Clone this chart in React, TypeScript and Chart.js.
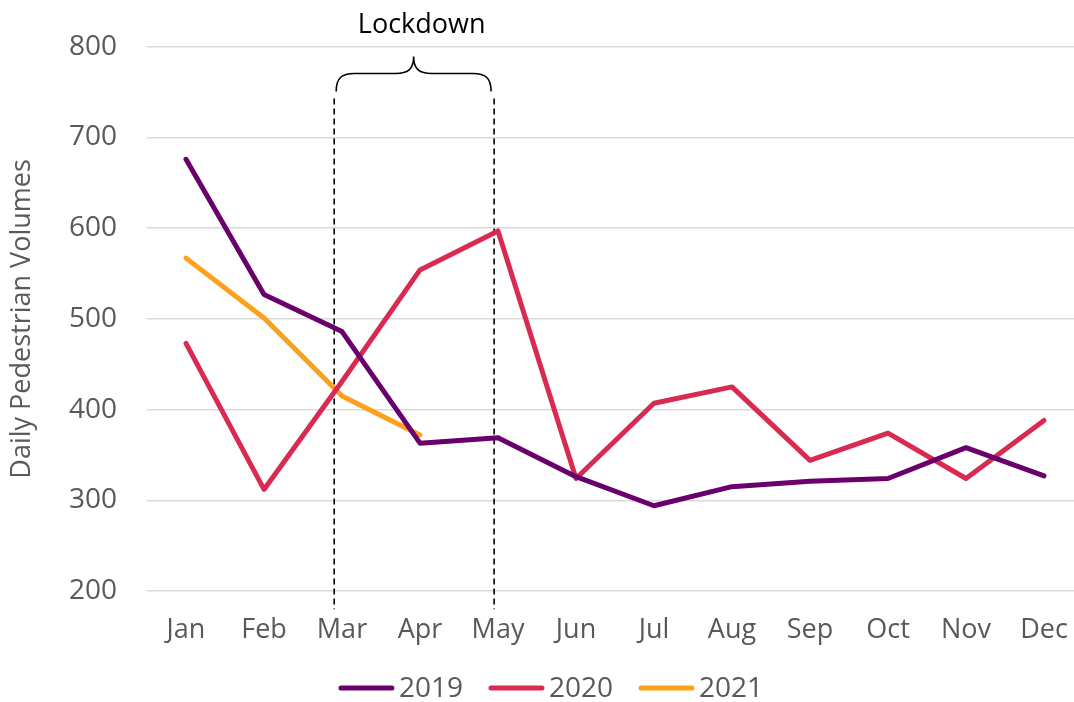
import { useEffect, useRef } from "react";
import { Chart, registerables } from "chart.js";

Chart.register(...registerables);

// ---- data ----
const months = ["Jan", "Feb", "Mar", "Apr", "May", "Jun", "Jul", "Aug", "Sep", "Oct", "Nov", "Dec"];
const seriesNames = ["2019", "2020", "2021"];
const values2019 = [676, 527, 486, 363, 369, 326, 294, 315, 321, 324, 358, 327];
const values2020 = [473, 312, 431, 554, 597, 324, 407, 425, 344, 374, 324, 388];
const values2021 = [567, 501, 415, 372, null, null, null, null, null, null, null, null];
const yTicks = [200, 300, 400, 500, 600, 700, 800];
const yTitle = "Daily Pedestrian Volumes";
const lockdownLabel = "Lockdown";
// lockdown marker, in category-index units and axis values
const lockdownStart = 1.9;
const lockdownEnd = 3.95;
const lockdownTop = 743;
const lockdownBottom = 180;

// ---- styles ----
const FONT = "'Open Sans', sans-serif";
const TEXT_GREY = "#595959";
const COLORS = ["#6a006c", "#d92b52", "#ffa01a"];

const lockdownPlugin = {
  id: "lockdown",
  beforeDatasetsDraw(chart: any) {
    const { ctx, scales } = chart;
    const xs = scales.x;
    const ys = scales.y;
    const x1 = xs.getPixelForValue(lockdownStart);
    const x2 = xs.getPixelForValue(lockdownEnd);
    const yT = ys.getPixelForValue(lockdownTop);
    const yB = ys.getPixelForValue(lockdownBottom);
    ctx.save();
    ctx.strokeStyle = "#000";
    ctx.lineWidth = 1.6;
    ctx.setLineDash([6, 4]);
    [x1, x2].forEach((x) => {
      ctx.beginPath();
      ctx.moveTo(x, yT);
      ctx.lineTo(x, yB);
      ctx.stroke();
    });
    ctx.restore();
  },
  afterDraw(chart: any) {
    const { ctx, scales } = chart;
    const xs = scales.x;
    const ys = scales.y;
    const x1 = xs.getPixelForValue(lockdownStart) + 2;
    const x2 = xs.getPixelForValue(lockdownEnd) - 3;
    const yT = ys.getPixelForValue(lockdownTop);
    const yEnd = yT - 7;
    const yMid = yT - 25;
    const yTip = yT - 42;
    const cx = (x1 + x2) / 2;
    const r = 18;
    ctx.save();
    ctx.strokeStyle = "#000";
    ctx.lineWidth = 1.6;
    ctx.setLineDash([]);
    ctx.beginPath();
    ctx.moveTo(x1, yEnd);
    ctx.bezierCurveTo(x1, yMid + 4, x1 + 6, yMid, x1 + r, yMid);
    ctx.lineTo(cx - r, yMid);
    ctx.bezierCurveTo(cx - 6, yMid, cx, yMid - 4, cx, yTip);
    ctx.bezierCurveTo(cx, yMid - 4, cx + 6, yMid, cx + r, yMid);
    ctx.lineTo(x2 - r, yMid);
    ctx.bezierCurveTo(x2 - 6, yMid, x2, yMid + 4, x2, yEnd);
    ctx.stroke();
    ctx.fillStyle = "#000";
    ctx.font = `27px ${FONT}`;
    ctx.textAlign = "center";
    ctx.textBaseline = "alphabetic";
    ctx.fillText(lockdownLabel, cx + 8, yTip - 23);
    ctx.restore();
  },
};

const legendPlugin = {
  id: "customLegend",
  afterDraw(chart: any) {
    const { ctx } = chart;
    const lineLen = 51;
    const gapText = 7;
    const gapItem = 28;
    const yC = 689;
    ctx.save();
    ctx.font = `28px ${FONT}`;
    const items = chart.data.datasets.map((d: any) => ({
      label: d.label,
      color: d.borderColor,
      w: ctx.measureText(d.label).width,
    }));
    let total = 0;
    items.forEach((it: any, i: number) => {
      total += lineLen + gapText + it.w + (i < items.length - 1 ? gapItem : 0);
    });
    let x = chart.width / 2 - total / 2;
    items.forEach((it: any) => {
      ctx.strokeStyle = it.color;
      ctx.lineWidth = 5;
      ctx.lineCap = "round";
      ctx.beginPath();
      ctx.moveTo(x, yC - 1);
      ctx.lineTo(x + lineLen, yC - 1);
      ctx.stroke();
      x += lineLen + gapText;
      ctx.fillStyle = TEXT_GREY;
      ctx.textAlign = "left";
      ctx.textBaseline = "middle";
      ctx.fillText(it.label, x, yC);
      x += it.w + gapItem;
    });
    ctx.restore();
  },
};

export default function App() {
  const ref = useRef<HTMLCanvasElement>(null);
  useEffect(() => {
    const canvas = ref.current;
    if (!canvas) return;
    const seriesValues = [values2019, values2020, values2021];
    const chart = new Chart(canvas, {
      type: "line",
      data: {
        labels: months,
        datasets: seriesNames.map((name, i) => ({
          label: name,
          data: seriesValues[i],
          borderColor: COLORS[i],
          backgroundColor: COLORS[i],
          borderWidth: 5,
          borderCapStyle: "round",
          borderJoinStyle: "round",
          pointRadius: 0,
          pointHoverRadius: 0,
          tension: 0,
          fill: false,
          spanGaps: false,
        })),
      },
      options: {
        responsive: false,
        animation: false,
        devicePixelRatio: 1,
        layout: { padding: { left: 0, right: 21, top: 46, bottom: 0 } },
        plugins: {
          legend: { display: false },
          tooltip: { enabled: false },
        },
        scales: {
          x: {
            type: "category",
            offset: true,
            grid: { display: false, drawTicks: false },
            border: { display: false },
            ticks: {
              color: TEXT_GREY,
              font: { family: FONT, size: 27 },
              padding: 23,
              maxRotation: 0,
              autoSkip: false,
            },
            afterFit: (s: any) => {
              s.height = 111;
            },
          },
          y: {
            min: yTicks[0],
            max: yTicks[yTicks.length - 1],
            afterBuildTicks: (s: any) => {
              s.ticks = yTicks.map((v) => ({ value: v }));
            },
            grid: { color: "#d9d9d9", lineWidth: 1.5, drawTicks: false },
            border: { display: false },
            ticks: {
              color: TEXT_GREY,
              font: { family: FONT, size: 28 },
              padding: 30,
            },
            title: {
              display: true,
              text: yTitle,
              color: TEXT_GREY,
              font: { family: FONT, size: 27 },
              padding: { top: 6, bottom: 0 },
            },
            afterFit: (s: any) => {
              s.width = 147;
            },
          },
        },
      } as any,
      plugins: [lockdownPlugin, legendPlugin],
    });
    return () => chart.destroy();
  }, []);
  return (
    <div
      style={{
        position: "fixed",
        left: 0,
        top: 0,
        width: 1074,
        height: 702,
        overflow: "hidden",
        background: "#fff",
      }}
    >
      <canvas ref={ref} width={1104} height={702} style={{ display: "block" }} />
    </div>
  );
}
